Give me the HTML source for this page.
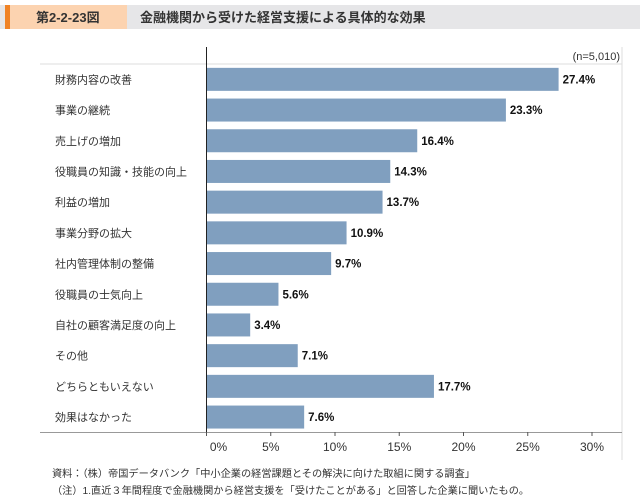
<!DOCTYPE html>
<html><head><meta charset="utf-8"><style>
body{margin:0;width:640px;height:498px;background:#fff;overflow:hidden;font-family:"Liberation Sans","Noto Sans CJK JP",sans-serif;}
svg text{font-family:"Liberation Sans","Noto Sans CJK JP",sans-serif;}
</style></head><body>
<svg width="640" height="498">
<rect x="0" y="5" width="640" height="24" fill="#e6e6e8"/>
<rect x="5" y="5" width="122" height="24" fill="#fcd3b0"/>
<rect x="5" y="5" width="5" height="24" fill="#f08326"/>
<text x="36" y="22" font-size="13" font-weight="bold" fill="#333">第2-2-23図</text>
<text x="140" y="22" font-size="13" font-weight="bold" fill="#333">金融機関から受けた経営支援による具体的な効果</text>
<text x="620" y="60" font-size="11" fill="#333" text-anchor="end">(n=5,010)</text>
<line x1="40" y1="64" x2="622" y2="64" stroke="#ddd"/>
<line x1="622" y1="47" x2="622" y2="460" stroke="#ddd"/>
<line x1="40" y1="432.5" x2="622" y2="432.5" stroke="#999"/>
<line x1="206.5" y1="47" x2="206.5" y2="432" stroke="#222"/>
<g id="bars"></g>
<g id="ticks"></g>
<text x="52" y="477" font-size="10.2" fill="#333">資料：（株）帝国データバンク「中小企業の経営課題とその解決に向けた取組に関する調査」</text>
<text x="52" y="494" font-size="10.2" fill="#333">（注）1.直近３年間程度で金融機関から経営支援を「受けたことがある」と回答した企業に聞いたもの。</text>
</svg>
<script>
const categories=["財務内容の改善","事業の継続","売上げの増加","役職員の知識・技能の向上","利益の増加","事業分野の拡大","社内管理体制の整備","役職員の士気向上","自社の顧客満足度の向上","その他","どちらともいえない","効果はなかった"];
const values=[27.4,23.3,16.4,14.3,13.7,10.9,9.7,5.6,3.4,7.1,17.7,7.6];
const tickValues=[0,5,10,15,20,25,30];
const tickLabels=["0%","5%","10%","15%","20%","25%","30%"];
const NS="http://www.w3.org/2000/svg";
const x0=206.5, pxPer=12.85, rowTop=64, rowH=30.7, barH=23;
const xs=v=>x0+v*pxPer;
const ys=i=>rowTop+i*rowH+rowH/2;
const bars=document.getElementById('bars');
categories.forEach((c,i)=>{
 const cy=ys(i);
 const t=document.createElementNS(NS,'text');
 
 
 t.setAttribute('x',55);t.setAttribute('y',cy+4);t.setAttribute('font-size','11');t.setAttribute('fill','#333');
 t.textContent=c;bars.appendChild(t);
 const r=document.createElementNS(NS,'rect');
 
 
 r.setAttribute('x',x0+0.5);r.setAttribute('y',cy-barH/2);r.setAttribute('width',xs(values[i])-x0-0.5);r.setAttribute('height',barH);r.setAttribute('fill','#809fbf');
 bars.appendChild(r);
 const v=document.createElementNS(NS,'text');
 
 
 v.setAttribute('x',xs(values[i])+4);v.setAttribute('y',cy+4);v.setAttribute('font-size','11.5');v.setAttribute('font-weight','bold');v.setAttribute('fill','#111');
 v.textContent=values[i].toFixed(1)+'%';bars.appendChild(v);
});
const ticks=document.getElementById('ticks');
tickValues.forEach((tv,i)=>{
 const x=xs(tv);
 const l=document.createElementNS(NS,'line');
 
 
 l.setAttribute('x1',x);l.setAttribute('x2',x);l.setAttribute('y1',432);l.setAttribute('y2',436);l.setAttribute('stroke','#555');
 ticks.appendChild(l);
 const t=document.createElementNS(NS,'text');
 
 
 t.setAttribute('x',tv===0?x+12:x);t.setAttribute('y',451);t.setAttribute('font-size','12');t.setAttribute('fill','#333');t.setAttribute('text-anchor','middle');
 t.textContent=tickLabels[i];ticks.appendChild(t);
});
</script>
</body></html>
